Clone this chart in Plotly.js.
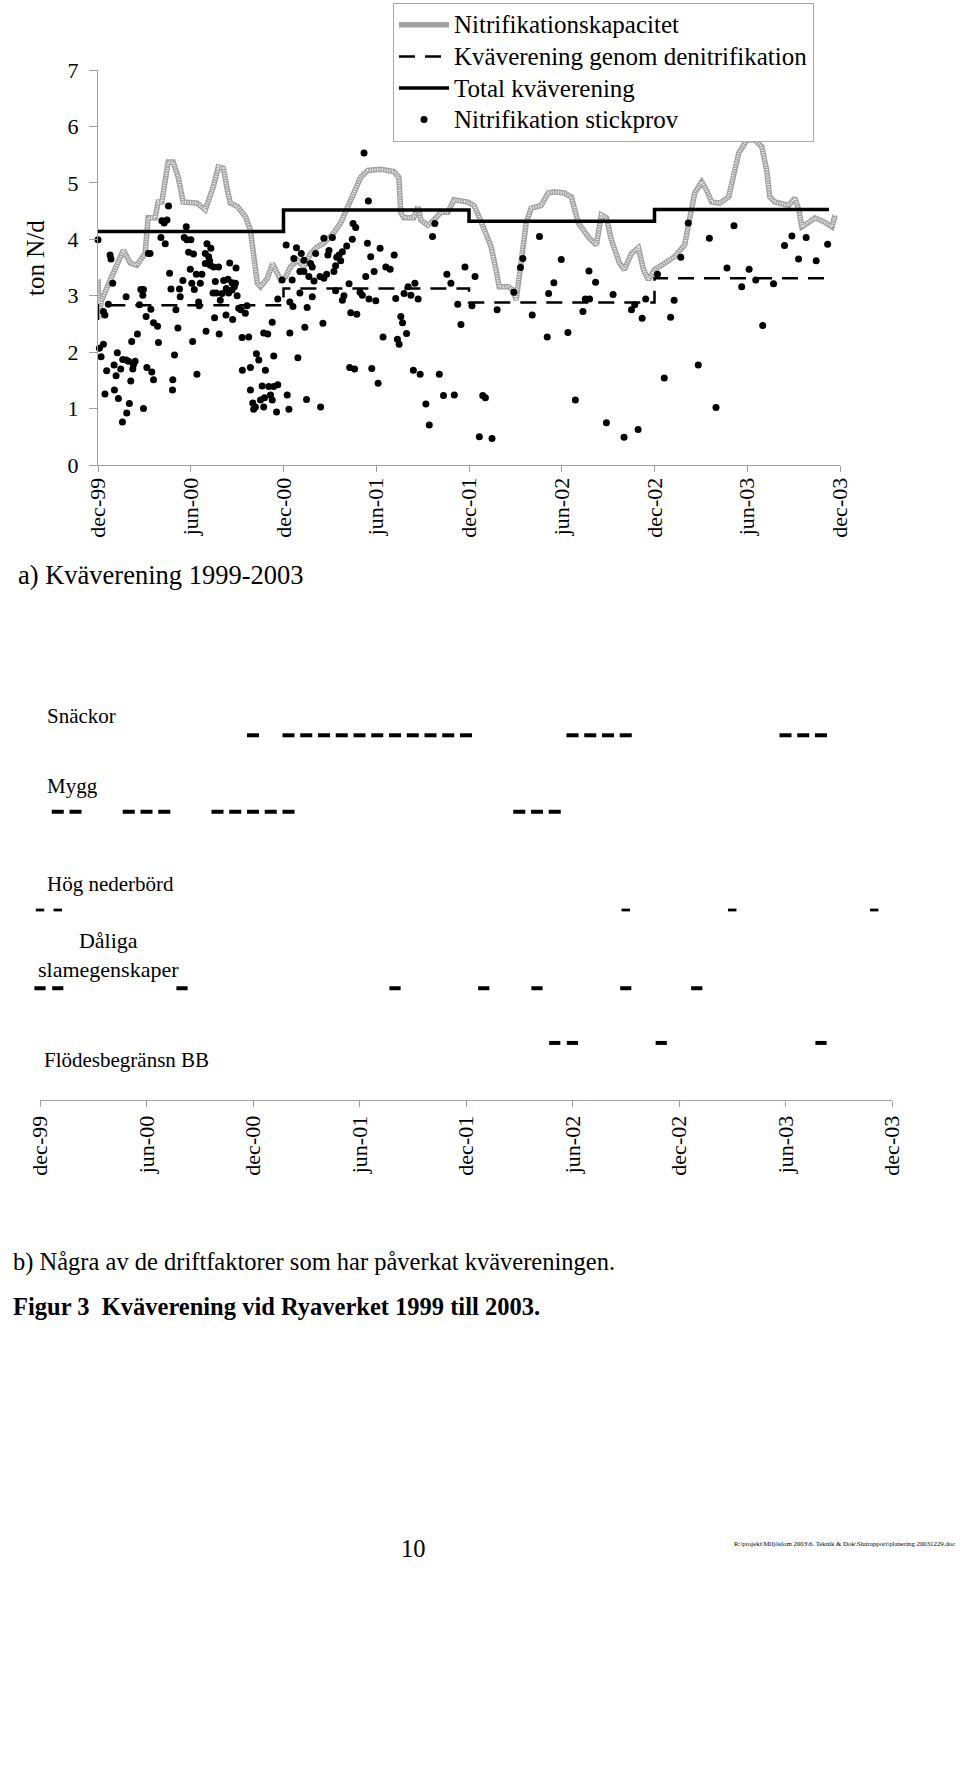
<!DOCTYPE html>
<html><head><meta charset="utf-8">
<script src="https://cdn.plot.ly/plotly-3.0.1.min.js"></script>
<style>html,body{margin:0;padding:0;background:#fff}</style>
</head><body><div id="chart" style="width:960px;height:1778px"></div>
<script>
// ---------- data ----------
const tickMonths = [0,6,12,18,24,30,36,42,48];
const tickText = ['dec-99','jun-00','dec-00','jun-01','dec-01','jun-02','dec-02','jun-03','dec-03'];
const yTicks = [0,1,2,3,4,5,6,7];

const seriesNames = ['Nitrifikationskapacitet','Kväverening genom denitrifikation','Total kväverening','Nitrifikation stickprov'];

// Nitrifikationskapacitet (months since dec-99, ton N/d)
const capMonth = [0,0.06,0.2,0.78,1.64,2.08,2.51,3.05,3.24,3.7,
3.89,4.13,4.54,4.86,5.19,5.51,6.42,6.94,7.46,7.78,
8.11,8.37,8.56,9.02,9.54,9.86,10.05,10.31,10.51,10.96,
11.29,11.48,11.81,12.13,12.45,12.91,13.3,13.75,14.2,14.6,
14.85,15.24,15.7,16.15,16.54,17.0,17.45,18.29,19.13,19.46,
19.59,19.78,20.43,20.69,20.89,21.34,21.73,22.18,22.64,23.03,
23.93,24.32,24.65,24.97,25.43,25.75,25.95,26.53,26.85,27.05,
27.37,27.7,28.02,28.67,29.12,29.51,30.16,30.62,31.07,31.72,
32.24,32.56,32.89,33.21,33.73,34.05,34.51,34.96,35.29,35.61,
36.0,36.65,37.3,37.95,38.27,38.6,39.05,39.37,39.7,40.22,
40.8,41.12,41.45,41.97,42.49,42.94,43.26,43.46,43.78,44.69,
45.08,45.34,45.53,45.99,46.38,47.03,47.48,47.68];
const capValue = [3.3,2.6,2.9,3.28,3.81,3.58,3.54,3.75,4.38,4.38,
4.66,4.66,5.37,5.37,5.1,4.66,4.64,4.52,4.93,5.28,
5.26,4.87,4.64,4.58,4.4,4.16,3.69,3.22,3.16,3.31,
3.57,3.46,3.28,3.33,3.51,3.63,3.51,3.75,3.87,3.93,
3.99,4.11,4.29,4.58,4.82,5.1,5.22,5.24,5.2,5.1,
4.47,4.38,4.38,4.58,4.34,4.25,4.34,4.48,4.48,4.7,
4.66,4.6,4.4,4.16,3.87,3.46,3.16,3.16,3.1,2.92,
3.69,4.29,4.55,4.6,4.82,4.84,4.82,4.75,4.29,4.04,
3.9,4.43,4.38,3.99,3.58,3.46,3.75,3.85,3.46,3.28,
3.46,3.58,3.69,3.9,4.34,4.82,5.02,4.87,4.66,4.64,
4.75,5.17,5.53,5.76,5.76,5.64,5.22,4.75,4.66,4.6,
4.73,4.52,4.22,4.3,4.38,4.3,4.22,4.43];

// Kväverening genom denitrifikation (step)
const denitMonth = [0,0,12,24,36,47.29];
const denitValue = [2.57,2.83,3.13,2.88,3.31,3.31];

// Total kväverening (step)
const totalMonth = [0,12,24,36,47.29];
const totalValue = [4.14,4.52,4.32,4.53,4.53];

// Nitrifikation stickprov
const sampleMonth = [0,0.78,0.84,0.95,0.35,0.45,0.67,0.09,0.2,0.35,
0.45,0.56,1.04,1.17,1.25,1.06,1.32,1.47,1.6,1.82,
1.97,2.03,1.86,1.58,2.12,2.25,2.29,2.4,2.18,2.55,
1.82,2.68,2.77,2.94,2.9,3.11,3.42,3.59,3.85,3.91,
2.94,3.16,3.48,3.59,3.26,3.37,4.13,4.28,4.46,4.56,
4.07,4.35,4.63,4.72,5.27,5.32,5.04,5.17,4.95,4.84,
4.82,5.71,5.58,5.75,6.01,5.86,6.18,5.49,5.97,6.36,
6.72,6.07,6.62,6.23,6.51,6.55,6.12,6.4,7.05,7.3,
7.16,6.94,7.22,6.94,7.26,7.48,7.8,7.59,7.44,7.65,
8.02,7.91,7.54,6.99,7.84,8.52,8.93,8.13,8.41,8.67,
8.89,8.82,8.3,8.45,8.67,9.0,8.28,8.71,9.1,9.25,
9.53,9.64,9.32,9.75,9.34,9.86,10.25,10.4,10.83,9.86,
10.62,11.05,11.37,11.63,10.01,10.18,10.51,10.77,11.16,11.27,
10.72,10.07,11.55,12.24,12.35,13.49,14.4,10.72,10.98,11.27,
11.37,11.63,11.91,12.17,12.56,12.41,12.61,12.41,12.93,12.84,
13.15,12.67,13.32,13.06,13.32,13.75,13.86,13.64,13.97,14.36,
13.06,13.38,13.53,13.86,14.08,14.61,14.87,14.79,14.55,17.21,
17.49,15.16,14.94,15.44,15.7,15.59,15.81,16.09,15.37,15.26,
14.61,16.45,16.5,16.67,15.37,15.91,15.81,16.24,16.95,17.1,
17.53,17.97,17.32,17.86,17.64,17.43,18.25,16.35,16.74,18.62,
18.9,19.16,19.26,19.8,20.06,20.24,20.5,20.71,19.59,19.7,
19.96,19.37,19.48,18.44,16.28,16.6,17.71,18.12,20.4,20.84,
22.08,21.21,21.43,22.35,23.05,21.79,21.64,22.57,22.83,23.74,
23.27,23.48,24.39,24.19,24.89,25.06,24.67,25.49,25.82,26.9,
27.33,27.48,28.09,28.56,29.15,29.49,29.06,29.97,30.4,30.88,
31.76,32.19,31.37,31.52,31.8,33.32,32.89,34.03,34.94,34.51,
34.72,35.2,35.43,36.19,37.04,37.27,37.7,38.18,36.63,38.83,
39.55,39.98,40.69,41.14,41.64,42.12,42.55,43.7,43.0,44.41,
44.89,45.32,45.81,46.46,47.2];
const sampleValue = [3.99,3.72,3.65,3.22,2.72,2.66,2.85,2.07,1.92,2.14,
1.26,1.67,1.77,1.58,1.99,1.33,1.18,1.70,1.87,1.86,
1.84,1.09,0.92,0.76,1.49,1.70,1.77,1.84,2.19,2.32,
2.98,2.84,3.11,3.11,3.01,2.63,2.76,2.52,2.46,2.17,
1.0,1.73,1.65,1.51,3.75,3.75,4.33,4.29,4.34,4.59,
4.03,3.92,3.40,3.12,3.12,2.98,2.75,2.43,1.95,1.51,
1.33,4.22,4.03,3.99,3.99,3.77,3.74,3.27,3.47,3.38,
3.38,3.22,3.22,3.11,2.89,2.82,2.19,1.61,3.92,3.84,
3.69,3.75,3.62,3.57,3.54,3.51,3.51,3.25,3.05,3.05,
3.04,2.92,2.61,2.37,2.32,3.58,3.49,3.27,3.29,3.23,
3.22,3.16,3.13,3.05,3.10,3.0,2.66,2.58,2.78,2.75,
2.69,2.82,2.26,2.27,1.68,1.73,1.97,1.86,1.68,1.33,
1.40,1.39,1.39,1.42,1.10,1.03,1.15,1.19,1.24,1.15,
1.03,0.99,0.94,1.24,0.99,1.16,1.03,2.34,2.32,2.53,
1.93,2.94,3.28,3.9,3.28,2.89,2.81,2.34,1.9,3.85,
3.75,3.66,3.63,3.43,3.43,3.57,3.51,3.34,3.26,3.34,
3.05,2.44,2.79,2.98,3.75,4.02,3.72,3.38,2.51,5.53,
4.68,4.03,3.80,3.68,3.62,3.72,3.78,3.88,3.53,3.43,
3.31,4.0,4.28,4.21,3.09,3.0,2.92,3.21,3.06,3.01,
2.94,2.91,3.34,3.43,3.69,3.93,3.84,2.70,2.67,3.51,
3.47,3.72,2.95,3.04,3.16,3.01,3.22,2.94,2.63,2.52,
2.33,2.23,2.14,2.27,1.73,1.70,1.71,1.45,1.68,1.61,
1.61,1.08,0.71,1.23,1.24,4.28,4.05,3.38,3.22,3.51,
2.85,2.49,3.34,2.82,1.23,1.19,0.50,0.47,2.75,3.06,
3.50,3.66,2.66,4.05,3.04,3.23,2.27,3.64,2.35,1.15,
3.44,3.24,2.72,2.94,2.94,3.02,0.75,0.49,0.63,2.75,
2.84,2.60,2.94,3.38,2.62,2.92,3.68,4.29,1.54,1.77,
4.02,1.02,3.49,4.24,3.16,3.47,3.28,3.21,2.47,3.89,
4.06,3.65,4.03,3.62,3.91];

// Driftfaktorer (months with the factor present)
const factorNames = ['Snäckor','Mygg','Hög nederbörd','Dåliga<br>slamegenskaper','Flödesbegränsn BB'];
const snackorMonths = [12,14,15,16,17,18,19,20,21,22,23,24,30,31,32,33,42,43,44];
const myggMonths = [1,2,5,6,7,10,11,12,13,14,27,28,29];
const nederbordMonths = [0,1,33,39,47];
const slamMonths = [0,1,8,20,25,28,33,37];
const flodesMonths = [29,30,35,44];
const rowLevel = [6.2,4.9,3.23,1.9,0.97];

const pageTexts = ['a) Kväverening 1999-2003',
  'b) Några av de driftfaktorer som har påverkat kvävereningen.',
  'Figur 3&nbsp;&nbsp;Kväverening vid Ryaverket 1999 till 2003.',
  '10',
  'R:\\projekt\\Miljöslom 2003\\6. Teknik &amp; Dok\\Slutrapport\\planering 20031229.doc'];

// ---------- layout helpers ----------
const W = 960, H = 1778;
const px = x => x / W, py = y => 1 - y / H;
const FONT = '"Liberation Serif","Times New Roman",Times,serif';
const AX = '#a0a0a0';
const legendName = s => '<span style="font-size:25px">' + s + '</span>';

const traces = [
  {x: capMonth, y: capValue, type:'scatter', mode:'lines', name: legendName(seriesNames[0]),
   line:{color:'#a2a2a2', width:5.5}, xaxis:'x', yaxis:'y', cliponaxis:false},
  {x: capMonth, y: capValue, type:'scatter', mode:'lines', showlegend:false,
   line:{color:'#efefef', width:3, dash:'1px,1.5px'}, xaxis:'x', yaxis:'y', cliponaxis:false},
  {x: denitMonth, y: denitValue, type:'scatter', mode:'lines', name: legendName(seriesNames[1]),
   line:{color:'#000', width:2.5, shape:'hv', dash:'16px,10px'}, xaxis:'x', yaxis:'y'},
  {x: totalMonth, y: totalValue, type:'scatter', mode:'lines', name: legendName(seriesNames[2]),
   line:{color:'#000', width:3.5, shape:'hv'}, xaxis:'x', yaxis:'y'},
  {x: sampleMonth, y: sampleValue, type:'scatter', mode:'markers', name: legendName(seriesNames[3]),
   marker:{color:'#000', size:7}, xaxis:'x', yaxis:'y', cliponaxis:false}
];

const factorSets = [snackorMonths, myggMonths, nederbordMonths, slamMonths, flodesMonths];
const dashSize = [8.6,8.6,6,8,8];
const dashWidth = [4,4,2.8,4,4];
factorSets.forEach((months, i) => {
  traces.push({x: months, y: months.map(() => rowLevel[i]), type:'scatter', mode:'markers',
    showlegend:false, xaxis:'x2', yaxis:'y2', cliponaxis:false,
    marker:{symbol:'line-ew', size:dashSize[i], color:'#000', line:{color:'#000', width:dashWidth[i]}}});
});

const xAxisBase = {range:[0,48], tickvals:tickMonths, ticktext:tickText, tickangle:-90,
  ticks:'outside', ticklen:6, tickcolor:AX, showline:true, linecolor:AX, linewidth:1,
  showgrid:false, zeroline:false, fixedrange:true, tickfont:{size:22, family:FONT, color:'#000'}};

const ann = (text, x, y, opts) => Object.assign({text, x:px(x), y:py(y), xref:'paper', yref:'paper',
  showarrow:false, xanchor:'left', yanchor:'middle', font:{family:FONT, size:24.5, color:'#000'}}, opts || {});
const rowFont = {family:FONT, size:21, color:'#000'};

const annotations = [
  ann('ton N/d', 36, 258, {textangle:-90, xanchor:'center', font:{family:FONT, size:25, color:'#000'}}),
  ann(pageTexts[0], 16, 575, {font:{family:FONT, size:26.5, color:'#000'}}),
  ann(factorNames[0], 45, 716, {font:rowFont}),
  ann(factorNames[1], 45, 786, {font:rowFont}),
  ann(factorNames[2], 45, 884, {font:rowFont}),
  ann(factorNames[3], 108, 955, {xanchor:'center', align:'center', font:{family:FONT, size:22, color:'#000'}}),
  ann(factorNames[4], 42, 1060, {font:rowFont}),
  ann(pageTexts[1], 11, 1262),
  ann('<b>' + pageTexts[2] + '</b>', 11, 1306),
  ann(pageTexts[3], 413, 1548, {xanchor:'center'}),
  ann(pageTexts[4], 957, 1543, {xanchor:'right', font:{family:FONT, size:6.8, color:'#000'}})
];

const layout = {
  width: W, height: H, margin:{l:0, r:0, t:0, b:0, pad:0},
  paper_bgcolor:'#fff', plot_bgcolor:'rgba(0,0,0,0)',
  font:{family:FONT, size:20, color:'#000'},
  showlegend:true,
  legend:{x:px(393), y:py(3), xanchor:'left', yanchor:'top', bordercolor:'#a8a8a8', borderwidth:1,
    bgcolor:'#fff', font:{family:FONT, size:22, color:'#000'}, itemwidth:50, traceorder:'normal',
    itemclick:false, itemdoubleclick:false},
  xaxis: Object.assign({}, xAxisBase, {domain:[px(98), px(840)], anchor:'y', ticklabelstandoff:-3}),
  yaxis: {domain:[py(465), py(70)], range:[0,7], tickvals:yTicks, ticks:'outside', ticklen:8,
    tickcolor:AX, showline:true, linecolor:AX, linewidth:1, showgrid:false, zeroline:false,
    anchor:'x', fixedrange:true, ticklabelstandoff:6, tickfont:{size:22, family:FONT, color:'#000'}},
  xaxis2: Object.assign({}, xAxisBase, {domain:[px(40), px(892)], anchor:'y2'}),
  yaxis2: {domain:[py(1100), py(700)], range:[0,6.8], visible:false, anchor:'x2', fixedrange:true},
  annotations
};

Plotly.newPlot('chart', traces, layout, {staticPlot:true, displayModeBar:false});
</script>
</body></html>
